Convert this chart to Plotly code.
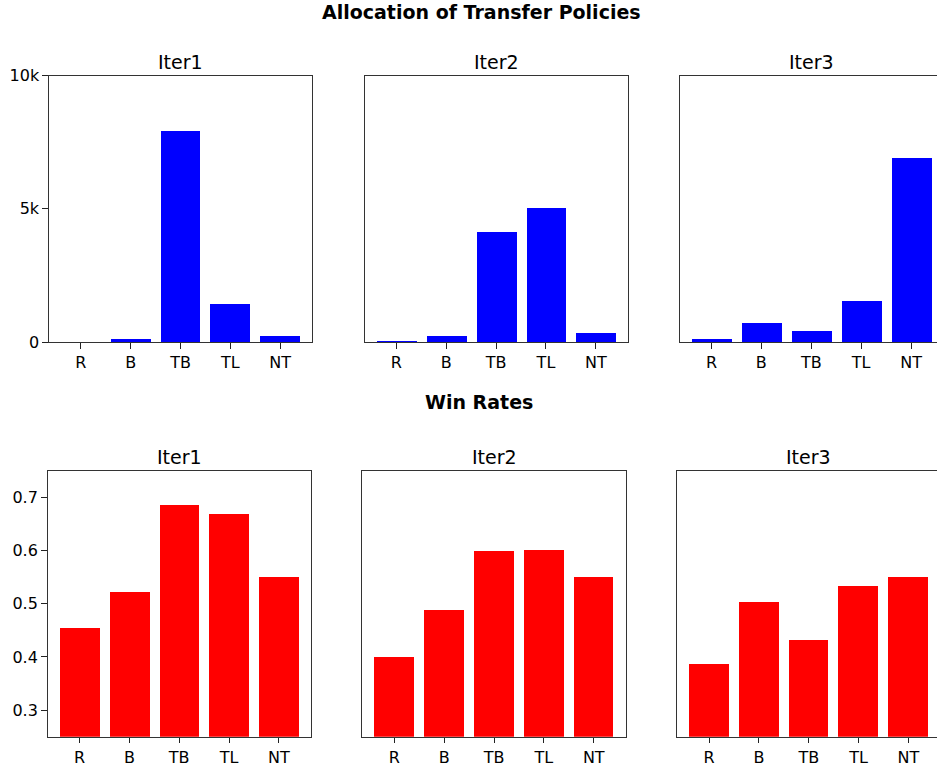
import plotly.graph_objects as go

W, H = 937, 767

categories = ["R", "B", "TB", "TL", "NT"]
iterations = ["Iter1", "Iter2", "Iter3"]

alloc_iter1 = [5, 110, 7930, 1430, 230]
alloc_iter2 = [40, 230, 4140, 5040, 340]
alloc_iter3 = [110, 710, 410, 1540, 6920]

win_iter1 = [0.455, 0.522, 0.687, 0.670, 0.550]
win_iter2 = [0.400, 0.488, 0.599, 0.601, 0.550]
win_iter3 = [0.387, 0.503, 0.432, 0.533, 0.550]

alloc_ticks = [0, 5000, 10000]
alloc_ticktext = ["0", "5k", "10k"]
win_ticks = [0.3, 0.4, 0.5, 0.6, 0.7]
win_ticktext = ["0.3", "0.4", "0.5", "0.6", "0.7"]

alloc_series = [alloc_iter1, alloc_iter2, alloc_iter3]
win_series = [win_iter1, win_iter2, win_iter3]

FONT = "DejaVu Sans"


def fx(px):
    return px / W


def fy(py):
    return 1 - py / H


# pixel geometry of panels (left, right) ; right panels are clipped by the figure edge
top_panels = [(49, 312), (364.5, 627.7), (679.5, 943)]
bot_panels = [(47.7, 310.7), (362.3, 625.7), (677.3, 940.3)]
top_y = (75.7, 342)
bot_y = (470.7, 736.7)
XR = (-0.64, 4.64)

fig = go.Figure()
layout = {}
annotations = []

panel_idx = 0
for row, (panels, ys, series, color, yr, tv, tt) in enumerate([
    (top_panels, top_y, alloc_series, "#0000ff", [0, 10000], alloc_ticks, alloc_ticktext),
    (bot_panels, bot_y, win_series, "#ff0000", [0.25, 0.75], win_ticks, win_ticktext),
]):
    for col, ((l, r), vals) in enumerate(zip(panels, series)):
        panel_idx += 1
        xa = "x" if panel_idx == 1 else f"x{panel_idx}"
        ya = "y" if panel_idx == 1 else f"y{panel_idx}"
        xkey = "xaxis" if panel_idx == 1 else f"xaxis{panel_idx}"
        ykey = "yaxis" if panel_idx == 1 else f"yaxis{panel_idx}"
        fig.add_trace(go.Bar(
            x=list(range(len(categories))), y=vals, width=0.8,
            marker=dict(color=color, line=dict(width=0)),
            xaxis=xa, yaxis=ya, showlegend=False, hoverinfo="x+y",
        ))
        span_units = XR[1] - XR[0]
        ppu = (r - l) / span_units
        r_vis = min(r, W)
        xmax = XR[0] + (r_vis - l) / ppu
        clipped = r > W
        layout[xkey] = dict(
            domain=[fx(l), fx(r_vis)], range=[XR[0], xmax], anchor=ya,
            tickvals=list(range(len(categories))), ticktext=categories,
            ticks="outside", ticklen=5.5, tickwidth=1.2, tickcolor="#222",
            showline=True, linecolor="#333", linewidth=1.3, mirror=True,
            showgrid=False, zeroline=False, fixedrange=True, automargin=False,
            tickfont=dict(family=FONT, size=16, color="#000"),
        )
        layout[ykey] = dict(
            domain=[fy(ys[1]), fy(ys[0])], range=yr, anchor=xa,
            tickvals=tv, ticktext=tt,
            ticks="outside" if col == 0 else "", ticklen=5.5, tickwidth=1.2, tickcolor="#222",
            showticklabels=(col == 0),
            showline=True, linecolor="#333", linewidth=1.3,
            mirror=(False if clipped else True),
            showgrid=False, zeroline=False, fixedrange=True, automargin=False,
            tickfont=dict(family=FONT, size=16, color="#000"),
        )
        annotations.append(dict(
            text=iterations[col], xref="paper", yref="paper",
            x=fx((l + r) / 2), y=fy(ys[0] - 14), yanchor="middle", xanchor="center",
            showarrow=False,
            font=dict(family=FONT, size=19, color="#000"),
        ))

annotations.append(dict(
    text="<b>Allocation of Transfer Policies</b>", xref="paper", yref="paper",
    x=fx(481.5), y=1, xanchor="center", yanchor="top", showarrow=False,
    borderpad=0,
    font=dict(family=FONT, size=19, color="#000"),
))
annotations.append(dict(
    text="<b>Win Rates</b>", xref="paper", yref="paper",
    x=fx(479), y=fy(402), xanchor="center", yanchor="middle", showarrow=False,
    font=dict(family=FONT, size=19, color="#000"),
))

fig.update_layout(
    width=W, height=H,
    margin=dict(l=0, r=0, t=0, b=0, autoexpand=False),
    paper_bgcolor="white", plot_bgcolor="white",
    annotations=annotations,
    bargap=0,
    **layout,
)

fig.write_html(
    "out.html",
    config={"displayModeBar": False},
    post_script="document.body.style.margin='0';document.body.style.overflow='hidden';",
)
